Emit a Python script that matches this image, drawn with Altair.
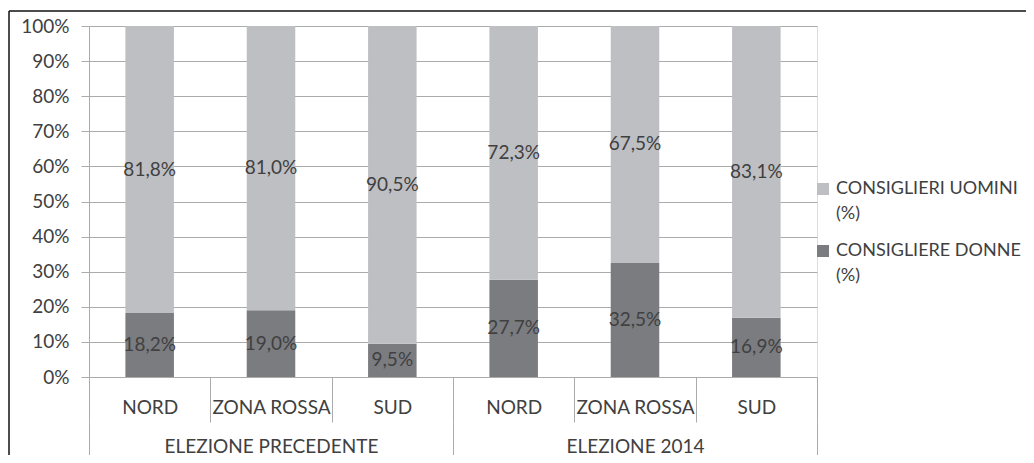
import altair as alt
import pandas as pd

groups = ["ELEZIONE PRECEDENTE", "ELEZIONE PRECEDENTE", "ELEZIONE PRECEDENTE",
          "ELEZIONE 2014", "ELEZIONE 2014", "ELEZIONE 2014"]
group_order = ["ELEZIONE PRECEDENTE", "ELEZIONE 2014"]
zones = ["NORD", "ZONA ROSSA", "SUD", "NORD", "ZONA ROSSA", "SUD"]
donne = [18.2, 19.0, 9.5, 27.7, 32.5, 16.9]
uomini = [81.8, 81.0, 90.5, 72.3, 67.5, 83.1]
series = ["CONSIGLIERI UOMINI (%)", "CONSIGLIERE DONNE (%)"]
y_ticks = [0, 10, 20, 30, 40, 50, 60, 70, 80, 90, 100]

keys = [f"{i}|{z}" for i, z in enumerate(zones)]
rows = []
for k, g, d, u in zip(keys, groups, donne, uomini):
    rows.append(dict(key=k, group=g, serie=series[1], value=d, ord=0))
    rows.append(dict(key=k, group=g, serie=series[0], value=u, ord=1))
df = pd.DataFrame(rows)

FONT = "Lato"
TXT = "#404040"
GRID = "#ABABAB"
LIGHT = "#BEBFC3"
DARK = "#7B7C80"
FS = 19

band = alt.Scale(type="band", paddingInner=0, paddingOuter=0)
yscale = alt.Scale(domain=[0, 100])
yaxis = alt.Axis(values=y_ticks, tickCount=11, title=None,
                 labelExpr="datum.value + '%'",
                 grid=True, gridColor=GRID, tickSize=8, tickColor=GRID,
                 domainColor=GRID, labelPadding=12, labelFontSize=FS,
                 labelColor=TXT, labelFont=FONT, labelOverlap=False)

bars = alt.Chart(df).mark_bar(width=alt.RelativeBandSize(0.4)).encode(
    x=alt.X("key:N", sort=keys, scale=band,
            axis=alt.Axis(title=None, orient="bottom", labelExpr="slice(datum.label, 2)",
                          labelAngle=0, tickBand="extent", tickSize=45, tickColor=GRID,
                          domainColor=GRID, labelPadding=-15, labelBaseline="middle",
                          grid=False, labelFontSize=FS, labelColor=TXT, labelFont=FONT,
                          labelOverlap=False, labelLimit=400)),
    y=alt.Y("value:Q", stack="zero", scale=yscale, axis=yaxis),
    color=alt.Color("serie:N", scale=alt.Scale(domain=series, range=[LIGHT, DARK]),
                    legend=alt.Legend(title=None, orient="none", legendX=725, legendY=154,
                                      direction="vertical", symbolType="square",
                                      symbolSize=144, symbolStrokeWidth=0,
                                      labelExpr="[slice(datum.label, 0, -4), '(%)']",
                                      labelFontSize=18, labelColor=TXT, labelFont=FONT,
                                      labelOffset=4, labelLimit=400, padding=0,
                                      rowPadding=19)),
    order=alt.Order("ord:Q"),
)

labels = alt.Chart(df).transform_stack(
    stack="value", groupby=["key"], as_=["v0", "v1"], sort=[alt.SortField("ord")]
).transform_calculate(
    mid="(datum.v0 + datum.v1) / 2",
    lab="replace(format(datum.value, '.1f'), '.', ',') + '%'",
).mark_text(font=FONT, fontSize=FS, color=TXT, baseline="middle").encode(
    x=alt.X("key:N", sort=keys, scale=band, axis=None),
    y=alt.Y("mid:Q", scale=yscale, axis=yaxis),
    text="lab:N",
)

grp = alt.Chart(df).mark_point(opacity=0).encode(
    x=alt.X("group:N", sort=group_order, scale=band,
            axis=alt.Axis(title=None, orient="bottom", offset=45, domain=False,
                          tickBand="extent", tickSize=60, tickColor=GRID,
                          labelPadding=-36, labelBaseline="middle", labelAngle=0,
                          grid=False, labelFontSize=FS, labelColor=TXT, labelFont=FONT,
                          labelOverlap=False, labelLimit=400)),
)

frame = pd.DataFrame({"f": [0]})
frame_top = alt.Chart(frame).mark_rule(color="#111111", strokeWidth=1.5).encode(
    x=alt.value(-80), x2=alt.value(1200), y=alt.value(-15))
frame_left = alt.Chart(frame).mark_rule(color="#111111", strokeWidth=1.5).encode(
    x=alt.value(-80), y=alt.value(-15), y2=alt.value(600))

chart = alt.layer(bars, labels, grp, frame_top, frame_left).resolve_scale(
    x="independent"
).properties(
    width=728, height=351,
    padding={"left": 81, "top": 18, "right": 209, "bottom": 78},
    autosize=alt.AutoSizeParams(type="none"),
).configure_view(stroke=None).configure(
    font=FONT, style={"guide-label": {"lineHeight": 25}}
)

chart.save("out.html", embed_options={"renderer": "svg", "actions": False})
